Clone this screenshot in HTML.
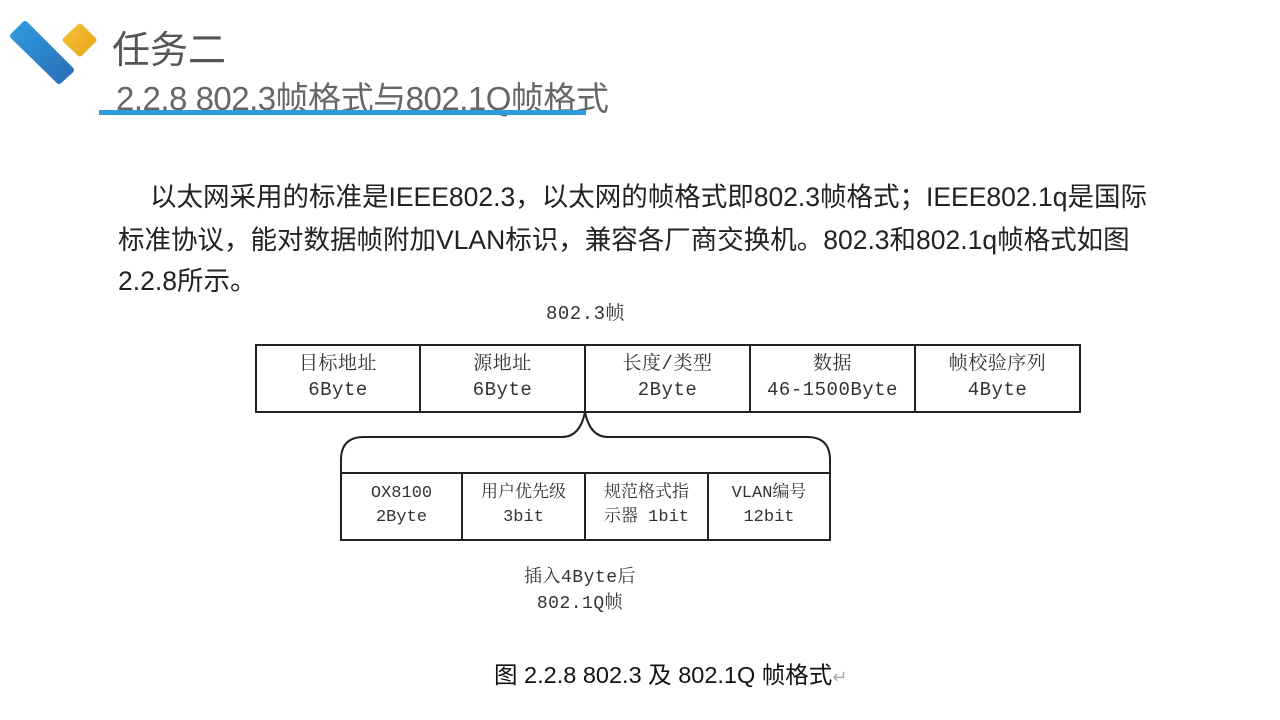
<!DOCTYPE html>
<html><head><meta charset="utf-8"><style>
body{margin:0;width:1280px;height:720px;background:#fff;position:relative;overflow:hidden;font-family:"Liberation Sans","Noto Sans CJK SC",sans-serif}
.a{position:absolute;white-space:nowrap}
.t{font-size:26.5px;color:#222}
.s{font-family:"Liberation Mono","Noto Serif CJK SC",monospace;font-size:19px;letter-spacing:0.5px;color:#333;text-align:center;line-height:26px}
</style></head><body>
<svg class="a" style="left:0;top:0" width="110" height="90">
<defs><linearGradient id="g1" x1="0" y1="0" x2="1" y2="1"><stop offset="0" stop-color="#2e9bdc"/><stop offset="1" stop-color="#2a6fb8"/></linearGradient>
<linearGradient id="g2" x1="0" y1="0" x2="1" y2="1"><stop offset="0" stop-color="#f5c13a"/><stop offset="1" stop-color="#e8a418"/></linearGradient></defs>
<path d="M13,36 L25,24 L71,70 L59,81 Z" fill="url(#g1)" stroke="url(#g1)" stroke-width="6" stroke-linejoin="round"/>
<path d="M65,40 L80,26 L94,40 L80,54 Z" fill="url(#g2)" stroke="url(#g2)" stroke-width="5" stroke-linejoin="round"/>
</svg>
<div class="a" style="left:112px;top:19px;font-size:38px;color:#555">任务二</div>
<div class="a" style="left:116px;top:72px;font-size:33px;color:#666;letter-spacing:-0.5px">2.2.8 802.3帧格式与802.1Q帧格式</div>
<div class="a" style="left:99px;top:110px;width:487px;height:5px;background:#2e9bdc"></div>
<div class="a t" style="left:150px;top:175px">以太网采用的标准是IEEE802.3，以太网的帧格式即802.3帧格式；IEEE802.1q是国际</div>
<div class="a t" style="left:118px;top:218px">标准协议，能对数据帧附加VLAN标识，兼容各厂商交换机。802.3和802.1q帧格式如图</div>
<div class="a t" style="left:118px;top:259px">2.2.8所示。</div>
<div class="a s" style="left:546px;top:301px">802.3帧</div>
<svg class="a" style="left:0;top:0" width="1280" height="720" fill="none" stroke="#222" stroke-width="2">
<rect x="256" y="345" width="824" height="67"/>
<path d="M420,345V412M585,345V412M750,345V412M915,345V412"/>
<rect x="341" y="473" width="489" height="67"/>
<path d="M462,473V540M585,473V540M708,473V540"/>
<path d="M341,473V460Q341,437 364,437H562Q580,437 585,412Q590,437 608,437H807Q830,437 830,460V473"/>
</svg>
<div class="a s" style="left:256px;top:351px;width:164px">目标地址<br>6Byte</div>
<div class="a s" style="left:420px;top:351px;width:165px">源地址<br>6Byte</div>
<div class="a s" style="left:585px;top:351px;width:165px">长度/类型<br>2Byte</div>
<div class="a s" style="left:750px;top:351px;width:165px">数据<br>46-1500Byte</div>
<div class="a s" style="left:915px;top:351px;width:165px">帧校验序列<br>4Byte</div>
<div class="a s" style="left:341px;top:482px;width:121px;font-size:17px;line-height:24px;letter-spacing:0">OX8100<br>2Byte</div>
<div class="a s" style="left:462px;top:482px;width:123px;font-size:17px;line-height:24px;letter-spacing:0">用户优先级<br>3bit</div>
<div class="a s" style="left:585px;top:482px;width:123px;font-size:17px;line-height:24px;letter-spacing:0">规范格式指<br>示器 1bit</div>
<div class="a s" style="left:708px;top:482px;width:122px;font-size:17px;line-height:24px;letter-spacing:0">VLAN编号<br>12bit</div>
<div class="a s" style="left:505px;top:565px;width:150px;font-size:18px">插入4Byte后<br>802.1Q帧</div>
<div class="a" style="left:494px;top:656px;font-size:23.5px;color:#111">图 2.2.8 802.3 及 802.1Q 帧格式<span style="color:#aaa;font-size:18px">↵</span></div>
</body></html>
